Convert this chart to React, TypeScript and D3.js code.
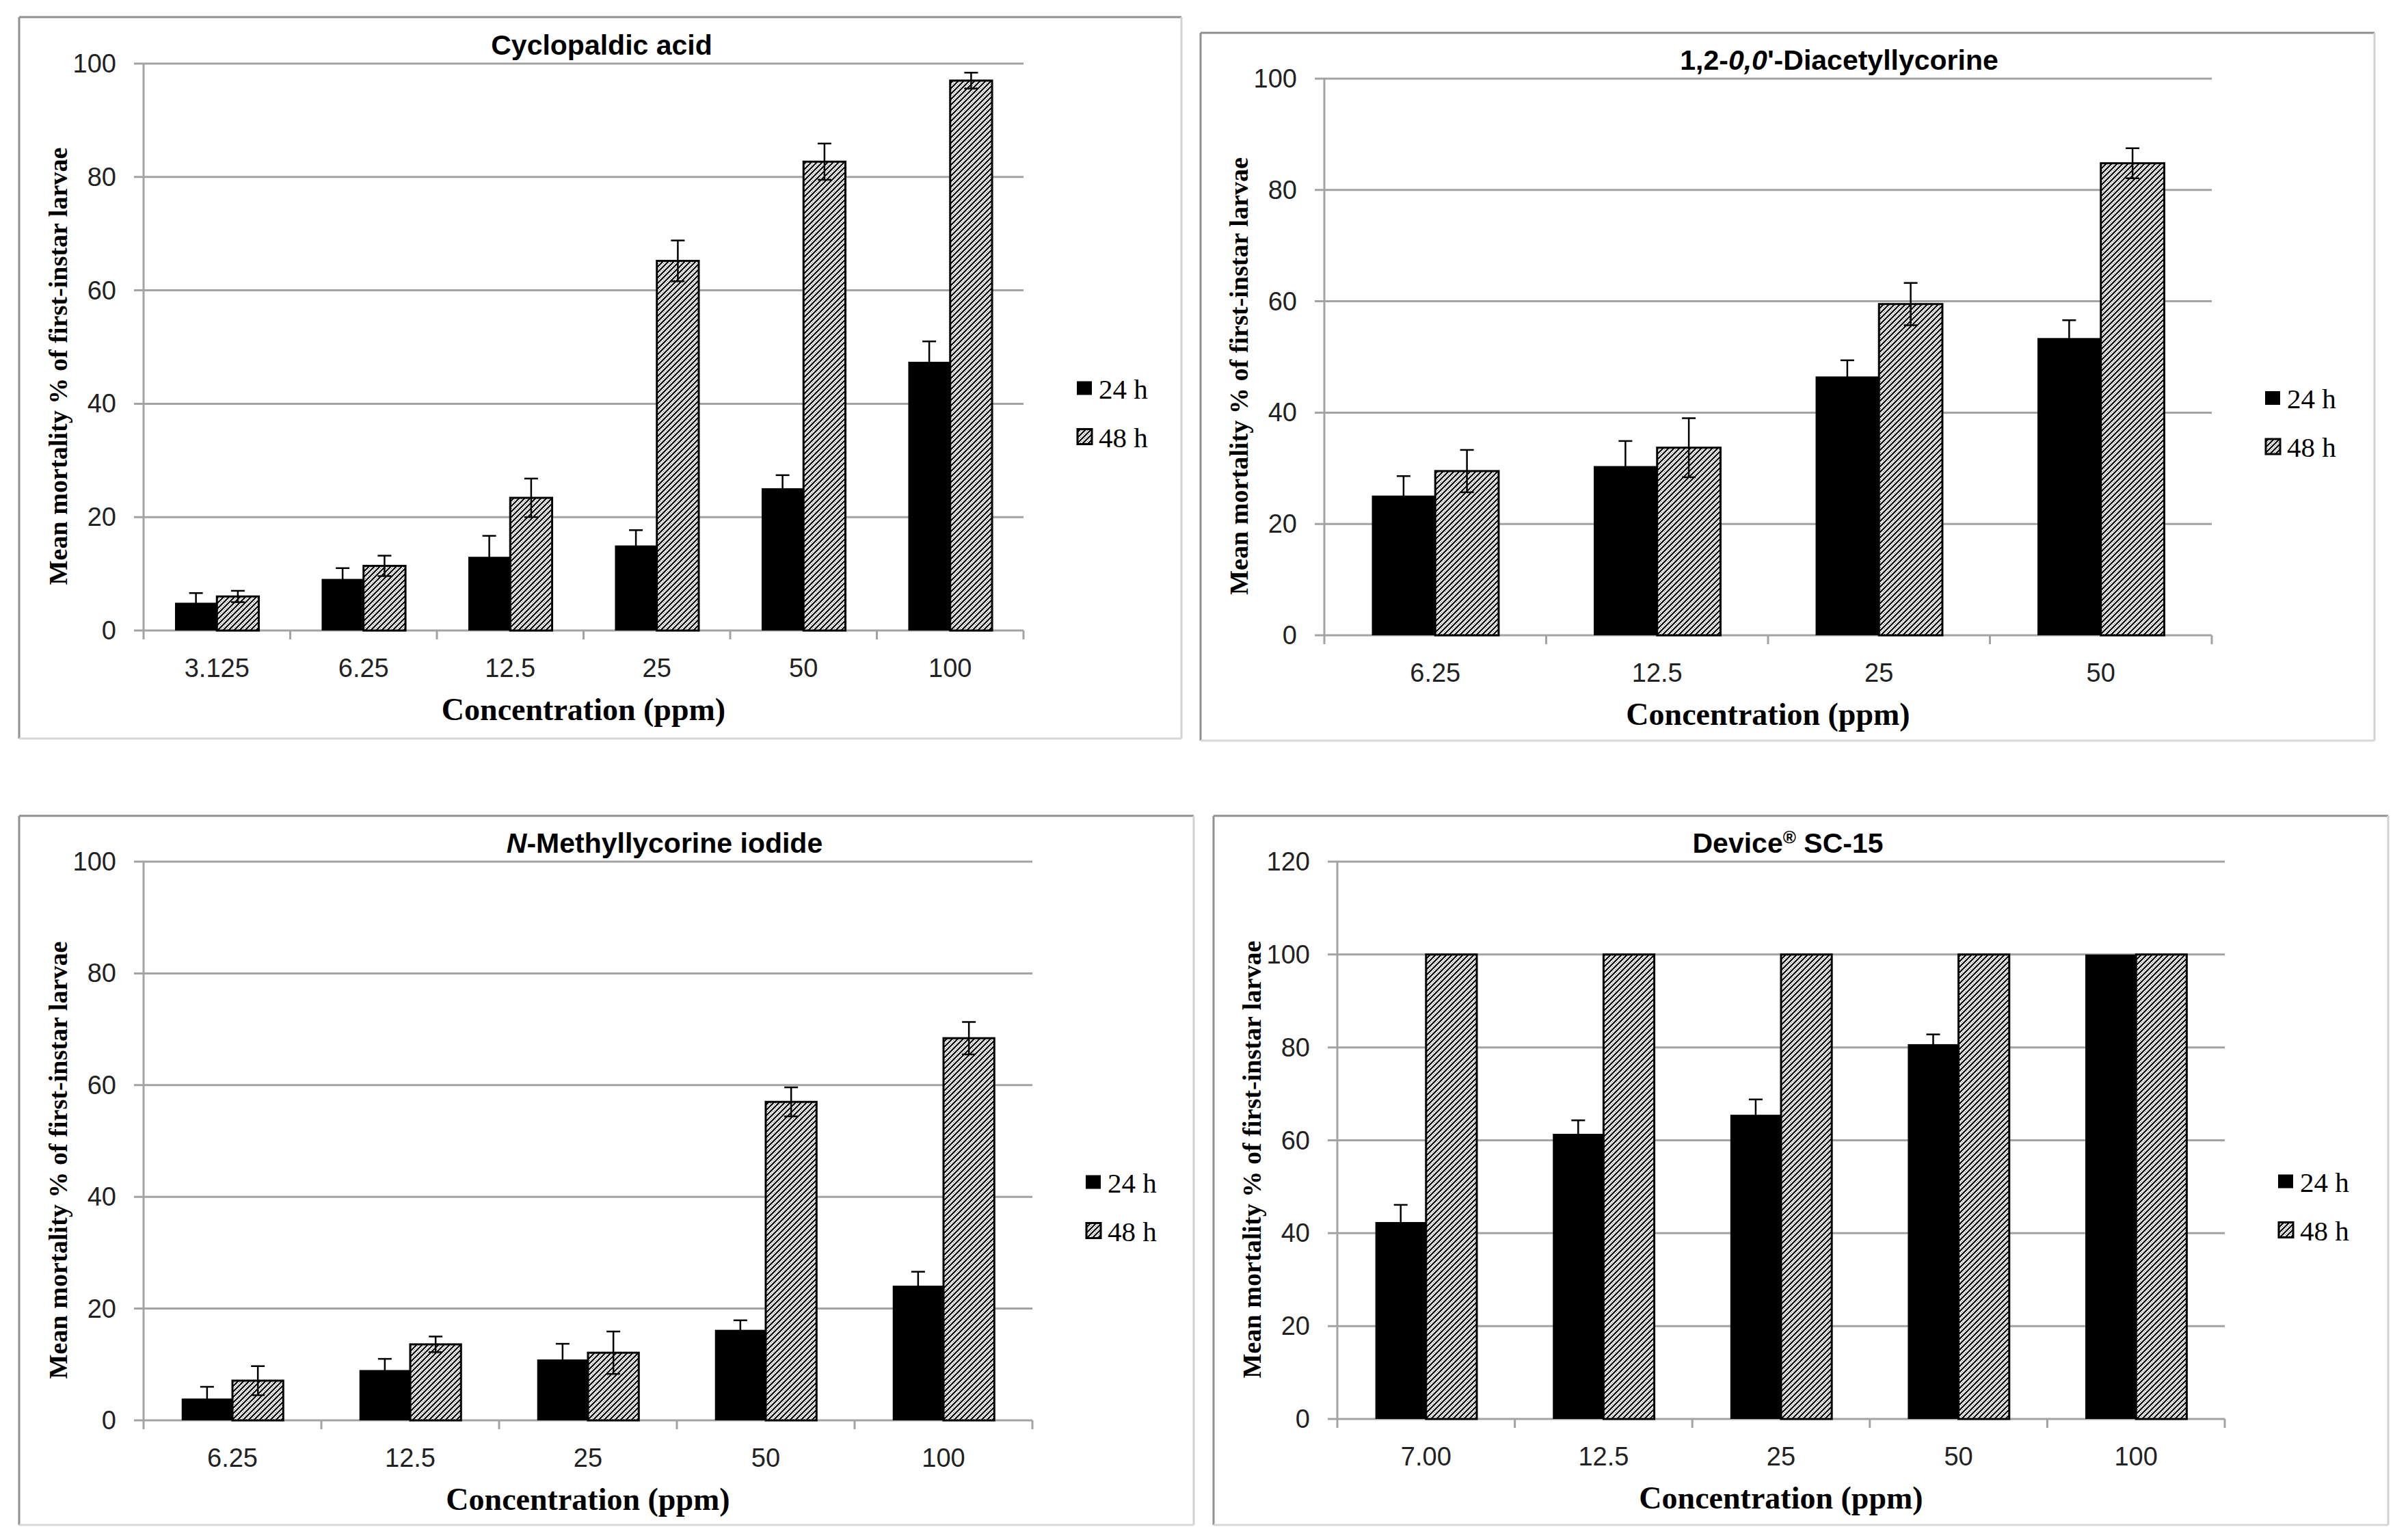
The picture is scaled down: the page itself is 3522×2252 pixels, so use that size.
import * as d3 from "d3";

// ---- data ----
const cycloCats = ["3.125", "6.25", "12.5", "25", "50", "100"];
const cyclo24 = [4.9, 9.1, 13.0, 15.0, 25.1, 47.4];
const cyclo24Err = [1.7, 1.9, 3.7, 2.7, 2.3, 3.6];
const cyclo48 = [6.0, 11.4, 23.4, 65.2, 82.7, 97.0];
const cyclo48Err = [1.0, 1.8, 3.4, 3.6, 3.2, 1.4];

const diaCats = ["6.25", "12.5", "25", "50"];
const dia24 = [25.1, 30.4, 46.5, 53.4];
const dia24Err = [3.5, 4.5, 2.9, 3.2];
const dia48 = [29.5, 33.7, 59.5, 84.8];
const dia48Err = [3.8, 5.3, 3.8, 2.7];

const metCats = ["6.25", "12.5", "25", "50", "100"];
const met24 = [3.9, 9.0, 10.9, 16.2, 24.1];
const met24Err = [2.1, 2.0, 2.8, 1.7, 2.5];
const met48 = [7.1, 13.6, 12.1, 57.0, 68.4];
const met48Err = [2.6, 1.4, 3.8, 2.6, 2.9];

const devCats = ["7.00", "12.5", "25", "50", "100"];
const dev24 = [42.4, 61.4, 65.5, 80.7, 100];
const dev24Err = [3.7, 2.9, 3.3, 2.1, 0];
const dev48 = [100, 100, 100, 100, 100];
const dev48Err = [0, 0, 0, 0, 0];

const seriesNames = ["24 h", "48 h"];
const xTitle = "Concentration (ppm)";
const yTitle = "Mean mortality % of  first-instar larvae";

const SANS = "'Liberation Sans', Arial, sans-serif";
const SERIF = "'Liberation Serif', 'Times New Roman', serif";
const GRID = "#a3a3a3";

type PanelProps = {
  box: [number, number, number, number];
  plot: [number, number, number, number];
  yMax: number;
  titleX: number;
  title: React.ReactNode;
  cats: string[];
  v24: number[];
  e24: number[];
  v48: number[];
  e48: number[];
};

function Panel(p: PanelProps) {
  const [bx0, by0, bx1, by1] = p.box;
  const [px0, py0, px1, py1] = p.plot;
  const x = d3.scaleBand().domain(p.cats).range([px0, px1]).padding(0);
  const xs = d3
    .scaleBand()
    .domain(seriesNames)
    .range([0, x.bandwidth()])
    .paddingInner(0)
    .paddingOuter(0.75);
  const y = d3.scaleLinear().domain([0, p.yMax]).range([py1, py0]);
  const ticks = d3.range(0, p.yMax + 1, 20);
  const cy = (py0 + py1) / 2;
  const boundaries = d3.range(p.cats.length + 1).map((i) => px0 + i * x.step());

  const bars = p.cats.map((c, i) => {
    const items = [
      { s: "24 h", v: p.v24[i], e: p.e24[i] },
      { s: "48 h", v: p.v48[i], e: p.e48[i] },
    ];
    return items.map((d) => {
      const bx = (x(c) as number) + (xs(d.s) as number);
      const w = xs.bandwidth();
      const mid = bx + w / 2;
      return (
        <g key={c + d.s}>
          <rect
            x={bx}
            y={y(d.v)}
            width={w}
            height={y(0) - y(d.v)}
            fill={d.s === "24 h" ? "#000" : "url(#hatch)"}
            stroke="#000"
            strokeWidth={d.s === "24 h" ? 0 : 3}
          />
          {d.e > 0 && (
            <g stroke="#000" strokeWidth={2.5}>
              <line x1={mid} x2={mid} y1={y(d.v + d.e)} y2={y(d.v - d.e)} />
              <line x1={mid - 10} x2={mid + 10} y1={y(d.v + d.e)} y2={y(d.v + d.e)} />
              <line x1={mid - 10} x2={mid + 10} y1={y(d.v - d.e)} y2={y(d.v - d.e)} />
            </g>
          )}
        </g>
      );
    });
  });

  const lx = px1 + 78;
  return (
    <g>
      <rect x={bx0} y={by0} width={bx1 - bx0} height={by1 - by0} fill="#fff" />
      <g strokeWidth={3} fill="none">
        <line x1={bx0} x2={bx1} y1={by0} y2={by0} stroke="#909090" />
        <line x1={bx0} x2={bx0} y1={by0} y2={by1} stroke="#909090" />
        <line x1={bx1} x2={bx1} y1={by0} y2={by1} stroke="#d2d2d2" />
        <line x1={bx0} x2={bx1} y1={by1} y2={by1} stroke="#d8d8d8" />
      </g>
      {ticks.map((t) => (
        <g key={t}>
          <line x1={px0 - 14} x2={px1} y1={y(t)} y2={y(t)} stroke={GRID} strokeWidth={3} />
          <text
            x={px0 - 40}
            y={y(t) + 13}
            textAnchor="end"
            fontFamily={SANS}
            fontSize={38}
            fill="#222"
          >
            {t}
          </text>
        </g>
      ))}
      <line x1={px0} x2={px0} y1={py0} y2={py1} stroke={GRID} strokeWidth={3} />
      {boundaries.map((bx, i) => (
        <line key={i} x1={bx} x2={bx} y1={py1} y2={py1 + 13} stroke={GRID} strokeWidth={3} />
      ))}
      {bars}
      {p.cats.map((c) => (
        <text
          key={c}
          x={(x(c) as number) + x.bandwidth() / 2}
          y={py1 + 68}
          textAnchor="middle"
          fontFamily={SANS}
          fontSize={38}
          fill="#222"
        >
          {c}
        </text>
      ))}
      <text
        x={(px0 + px1) / 2}
        y={py1 + 131}
        textAnchor="middle"
        fontFamily={SERIF}
        fontWeight="bold"
        fontSize={46}
        fill="#000"
      >
        {xTitle}
      </text>
      <text
        transform={`translate(${px0 - 112},${cy + 28}) rotate(-90)`}
        textAnchor="middle"
        fontFamily={SERIF}
        fontWeight="bold"
        fontSize={37}
        textLength={640}
        lengthAdjust="spacingAndGlyphs"
        fill="#000"
      >
        {yTitle}
      </text>
      <text
        x={p.titleX}
        y={py0 - 13}
        textAnchor="middle"
        fontFamily={SANS}
        fontWeight="bold"
        fontSize={41}
        fill="#000"
      >
        {p.title}
      </text>
      <rect x={lx} y={cy + 60 - 10} width={22} height={20} fill="#000" />
      <text x={lx + 32} y={cy + 60 + 15} fontFamily={SERIF} fontSize={41} fill="#000">
        {seriesNames[0]}
      </text>
      <rect
        x={lx + 1}
        y={cy + 131 - 11}
        width={21}
        height={22}
        fill="url(#hatch)"
        stroke="#000"
        strokeWidth={3}
      />
      <text x={lx + 32} y={cy + 131 + 15} fontFamily={SERIF} fontSize={41} fill="#000">
        {seriesNames[1]}
      </text>
    </g>
  );
}

export default function App() {
  return (
    <svg
      width={3522}
      height={2252}
      viewBox="0 0 3522 2252"
      style={{ position: "absolute", left: 0, top: 0, display: "block", background: "#fff" }}
    >
      <defs>
        <pattern id="hatch" patternUnits="userSpaceOnUse" width={8} height={8}>
          <rect width={8} height={8} fill="#fff" />
          <path d="M-2,2 L2,-2 M0,8 L8,0 M6,10 L10,6" stroke="#000" strokeWidth={2.2} />
          <path d="M0,4 L4,0 M4,8 L8,4" stroke="#000" strokeWidth={1} strokeDasharray="1 2" />
        </pattern>
      </defs>
      <rect width={3522} height={2252} fill="#fff" />
      <Panel
        box={[28, 25, 1728, 1080]}
        plot={[210, 93, 1497, 922]}
        yMax={100}
        titleX={880}
        title="Cyclopaldic acid"
        cats={cycloCats}
        v24={cyclo24}
        e24={cyclo24Err}
        v48={cyclo48}
        e48={cyclo48Err}
      />
      <Panel
        box={[1756, 48, 3473, 1083]}
        plot={[1937, 115, 3235, 929]}
        yMax={100}
        titleX={2690}
        title={
          <>
            1,2-<tspan fontStyle="italic">0,0</tspan>'-Diacetyllycorine
          </>
        }
        cats={diaCats}
        v24={dia24}
        e24={dia24Err}
        v48={dia48}
        e48={dia48Err}
      />
      <Panel
        box={[28, 1193, 1746, 2230]}
        plot={[210, 1260, 1510, 2077]}
        yMax={100}
        titleX={972}
        title={
          <>
            <tspan fontStyle="italic">N</tspan>-Methyllycorine iodide
          </>
        }
        cats={metCats}
        v24={met24}
        e24={met24Err}
        v48={met48}
        e48={met48Err}
      />
      <Panel
        box={[1775, 1193, 3493, 2230]}
        plot={[1956, 1260, 3254, 2075]}
        yMax={120}
        titleX={2615}
        title={
          <>
            Device
            <tspan fontSize={26} dy={-14}>
              ®
            </tspan>
            <tspan dy={14}> SC-15</tspan>
          </>
        }
        cats={devCats}
        v24={dev24}
        e24={dev24Err}
        v48={dev48}
        e48={dev48Err}
      />
    </svg>
  );
}
